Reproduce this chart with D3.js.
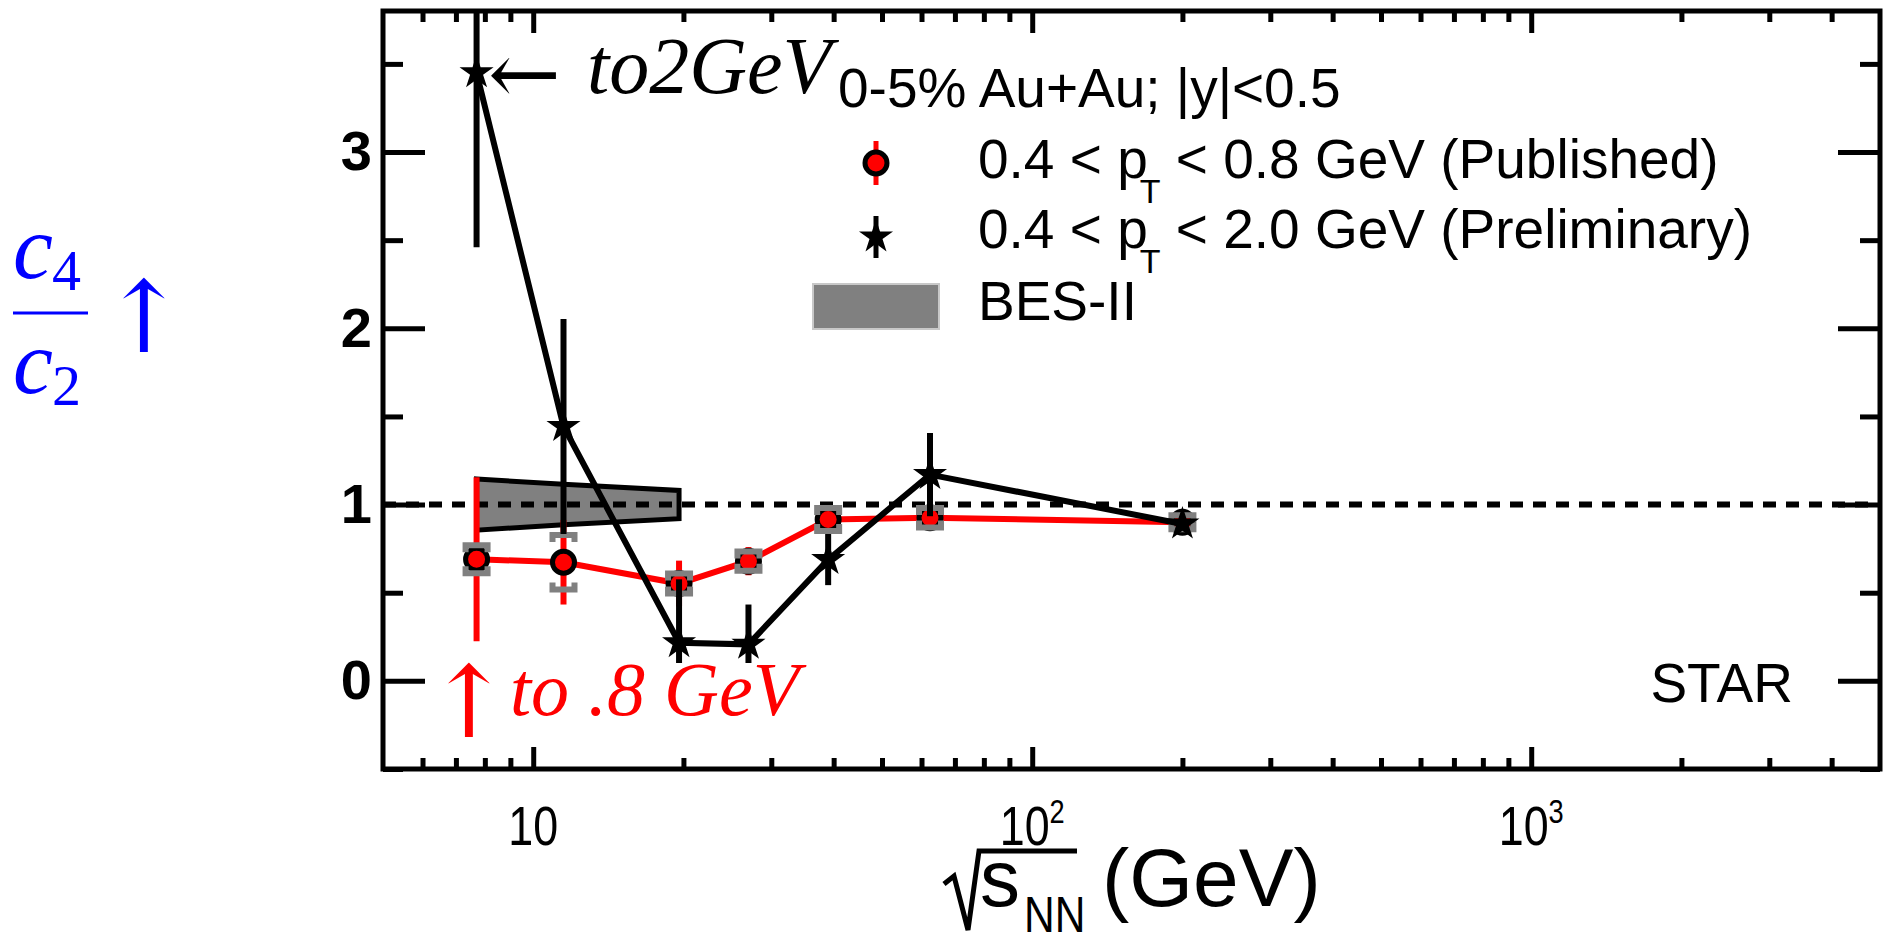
<!DOCTYPE html>
<html>
<head>
<meta charset="utf-8">
<style>
  body { margin: 0; background: #fff; }
  svg { display: block; }
  .sans { font-family: "Liberation Sans", Arial, Helvetica, sans-serif; }
  .serif { font-family: "Liberation Serif", "Times New Roman", serif; font-style: italic; }
</style>
</head>
<body>
<div id="chart"></div>
<script src="https://cdn.jsdelivr.net/npm/d3@7/dist/d3.min.js"></script>
<script>
// collision energies (GeV)
var energies = [7.7, 11.5, 19.6, 27, 39, 62.4, 200];

// 0.4 < pT < 0.8 GeV (published)
var pubVal  = [0.69, 0.673, 0.552, 0.679, 0.915, 0.925, 0.90];
var pubStat = [0.465, 0.24, 0.13, 0.08, 0.05, 0.04, 0.02];
var pubSys  = [0.08, 0.155, 0.057, 0.055, 0.065, 0.055, 0.04];

// 0.4 < pT < 2.0 GeV (preliminary)
var prelimVal = [3.45, 1.443, 0.216, 0.207, 0.688, 1.17, 0.89];
var prelimErr = [0.99, 0.61, 0.36, 0.226, 0.145, 0.236, 0.03];

// BES-II projection band
var besE    = [7.7, 11.5, 19.6];
var besMid  = [1.0, 1.0, 1.0];
var besHalf = [0.145, 0.115, 0.08];

// axes
var yMajor = [0, 1, 2, 3];
var yMinor = [-0.5, 0.5, 1.5, 2.5, 3.5];
var xMajor = [10, 100, 1000];
var xExp   = ['', '2', '3'];
var xMinor = [6, 7, 8, 9, 20, 30, 40, 50, 60, 70, 80, 90,
              200, 300, 400, 500, 600, 700, 800, 900, 2000, 3000, 4000];

var width = 1890, height = 934;
var padL = 383, padR = 1880, padT = 11, padB = 769;

var svg = d3.select('#chart').append('svg')
    .attr('width', width)
    .attr('height', height);

var x = d3.scaleLog().domain([5, 5000]).range([padL, padR]);
var y = d3.scaleLinear().domain([-0.5, 3.8]).range([padB, padT]);

// band
var band = besE.map(function(e, i){
    return {e: e, lo: besMid[i] - besHalf[i], hi: besMid[i] + besHalf[i]};
});
svg.append('path')
    .datum(band)
    .attr('d', d3.area().x(function(d){ return x(d.e); })
        .y0(function(d){ return y(d.lo); })
        .y1(function(d){ return y(d.hi); }))
    .attr('fill', '#808080')
    .attr('stroke', '#000')
    .attr('stroke-width', 5);

// unity line
svg.append('line')
    .attr('x1', x(5)).attr('x2', x(5000))
    .attr('y1', y(1)).attr('y2', y(1))
    .attr('stroke', '#000')
    .attr('stroke-width', 6)
    .attr('stroke-dasharray', '13,10');

var pub = energies.map(function(e, i){
    return {e: e, v: pubVal[i], stat: pubStat[i], sys: pubSys[i]};
});
var pre = energies.map(function(e, i){
    return {e: e, v: prelimVal[i], err: prelimErr[i]};
});

var line = d3.line().x(function(d){ return x(d.e); }).y(function(d){ return y(d.v); });

// published: line, stat bars, markers, systematic caps
svg.append('path').datum(pub).attr('d', line)
    .attr('fill', 'none').attr('stroke', '#ff0000').attr('stroke-width', 6);

svg.selectAll('.pubbar').data(pub).enter().append('line')
    .attr('x1', function(d){ return x(d.e); })
    .attr('x2', function(d){ return x(d.e); })
    .attr('y1', function(d){ return y(d.v - d.stat); })
    .attr('y2', function(d){ return y(d.v + d.stat); })
    .attr('stroke', '#ff0000').attr('stroke-width', 6);

svg.selectAll('.pubpt').data(pub).enter().append('circle')
    .attr('cx', function(d){ return x(d.e); })
    .attr('cy', function(d){ return y(d.v); })
    .attr('r', 11)
    .attr('fill', '#ff0000')
    .attr('stroke', '#000')
    .attr('stroke-width', 5);

function cap(d, sign){
    var cx = x(d.e), cy = y(d.v + sign * d.sys), leg = 7 * sign;
    return 'M' + (cx - 11) + ',' + (cy + leg) + 'V' + cy + 'H' + (cx + 11) + 'V' + (cy + leg);
}
svg.selectAll('.sysup').data(pub).enter().append('path')
    .attr('d', function(d){ return cap(d, 1); })
    .attr('fill', 'none').attr('stroke', '#808080').attr('stroke-width', 6);
svg.selectAll('.sysdn').data(pub).enter().append('path')
    .attr('d', function(d){ return cap(d, -1); })
    .attr('fill', 'none').attr('stroke', '#808080').attr('stroke-width', 6);

// preliminary: line, bars, stars
svg.append('path').datum(pre).attr('d', line)
    .attr('fill', 'none').attr('stroke', '#000').attr('stroke-width', 6);

svg.selectAll('.prebar').data(pre).enter().append('line')
    .attr('x1', function(d){ return x(d.e); })
    .attr('x2', function(d){ return x(d.e); })
    .attr('y1', function(d){ return y(Math.max(d.v - d.err, -0.5)); })
    .attr('y2', function(d){ return y(Math.min(d.v + d.err, 3.8)); })
    .attr('stroke', '#000').attr('stroke-width', 6);

var star = d3.symbol().type(d3.symbolStar).size(360);
svg.selectAll('.prept').data(pre).enter().append('path')
    .attr('d', star)
    .attr('transform', function(d){ return 'translate(' + x(d.e) + ',' + y(d.v) + ')'; })
    .attr('fill', '#000');

// frame ticks
function styleAxis(g){
    g.select('.domain').remove();
    g.selectAll('.tick line').attr('stroke', '#000').attr('stroke-width', 5);
}
svg.append('g').attr('transform', 'translate(' + padL + ',0)')
    .call(d3.axisLeft(y).tickValues(yMajor).tickSize(-42).tickPadding(11).tickFormat(d3.format('d')))
    .call(styleAxis)
    .selectAll('text')
    .attr('class', 'sans')
    .attr('font-size', 56)
    .attr('font-weight', 'bold')
    .attr('fill', '#000');
svg.append('g').attr('transform', 'translate(' + padL + ',0)')
    .call(d3.axisLeft(y).tickValues(yMinor).tickSize(-20).tickFormat(''))
    .call(styleAxis);
svg.append('g').attr('transform', 'translate(' + padR + ',0)')
    .call(d3.axisRight(y).tickValues(yMajor).tickSize(-42).tickFormat(''))
    .call(styleAxis);
svg.append('g').attr('transform', 'translate(' + padR + ',0)')
    .call(d3.axisRight(y).tickValues(yMinor).tickSize(-20).tickFormat(''))
    .call(styleAxis);
svg.append('g').attr('transform', 'translate(0,' + padB + ')')
    .call(d3.axisBottom(x).tickValues(xMajor).tickSize(-22).tickFormat(''))
    .call(styleAxis);
svg.append('g').attr('transform', 'translate(0,' + padB + ')')
    .call(d3.axisBottom(x).tickValues(xMinor).tickSize(-11).tickFormat(''))
    .call(styleAxis);
svg.append('g').attr('transform', 'translate(0,' + padT + ')')
    .call(d3.axisTop(x).tickValues(xMajor).tickSize(-22).tickFormat(''))
    .call(styleAxis);
svg.append('g').attr('transform', 'translate(0,' + padT + ')')
    .call(d3.axisTop(x).tickValues(xMinor).tickSize(-11).tickFormat(''))
    .call(styleAxis);

// x tick labels (narrow, as in the original)
var xl = svg.selectAll('.xlab').data(xMajor).enter().append('text')
    .attr('class', 'sans')
    .attr('transform', function(d){ return 'translate(' + x(d) + ',845) scale(0.8,1)'; })
    .attr('text-anchor', 'middle')
    .attr('font-size', 56);
xl.append('tspan').text('10');
xl.append('tspan').attr('dy', -22).attr('font-size', 34)
    .text(function(d, i){ return xExp[i]; });

// frame
svg.append('rect')
    .attr('x', padL).attr('y', padT)
    .attr('width', padR - padL).attr('height', padB - padT)
    .attr('fill', 'none').attr('stroke', '#000').attr('stroke-width', 5);

// x title
svg.append('path')
    .attr('d', 'M944,884 L954,876 L968,930 L979,851 L1077,851')
    .attr('fill', 'none').attr('stroke', '#000').attr('stroke-width', 5);
svg.append('text').attr('class', 'sans').attr('x', 980).attr('y', 906)
    .attr('font-size', 80).text('s');
svg.append('text').attr('class', 'sans').attr('x', 1024).attr('y', 932)
    .attr('transform', 'translate(1024,0) scale(0.85,1) translate(-1024,0)')
    .attr('font-size', 50).text('NN');
svg.append('text').attr('class', 'sans').attr('x', 1102).attr('y', 906)
    .attr('font-size', 82).text('(GeV)');

// legend
svg.append('text').attr('class', 'sans').attr('x', 838).attr('y', 107)
    .attr('font-size', 55).text('0-5% Au+Au; |y|<0.5');

svg.append('line').attr('x1', 876).attr('x2', 876).attr('y1', 141).attr('y2', 185)
    .attr('stroke', '#ff0000').attr('stroke-width', 5);
svg.append('circle').attr('cx', 876).attr('cy', 163).attr('r', 11)
    .attr('fill', '#ff0000').attr('stroke', '#000').attr('stroke-width', 5);
svg.append('line').attr('x1', 876).attr('x2', 876).attr('y1', 216).attr('y2', 258)
    .attr('stroke', '#000').attr('stroke-width', 5);
svg.append('path').attr('d', star).attr('transform', 'translate(876,237)').attr('fill', '#000');
svg.append('rect').attr('x', 813).attr('y', 284).attr('width', 126).attr('height', 45)
    .attr('fill', '#808080').attr('stroke', '#c8c8c8').attr('stroke-width', 2);

var legText = [['0.4 < p', ' < 0.8 GeV (Published)', 178],
               ['0.4 < p', ' < 2.0 GeV (Preliminary)', 248]];
legText.forEach(function(t){
    var tx = svg.append('text').attr('class', 'sans').attr('x', 978).attr('y', t[2]).attr('font-size', 55);
    tx.append('tspan').text(t[0]);
    tx.append('tspan').attr('font-size', 34).attr('dy', 25).attr('dx', -8).text('T');
    tx.append('tspan').attr('dy', -25).text(t[1]);
});
svg.append('text').attr('class', 'sans').attr('x', 978).attr('y', 320)
    .attr('font-size', 55).text('BES-II');

svg.append('text').attr('class', 'sans').attr('x', 1793).attr('y', 702)
    .attr('text-anchor', 'end').attr('font-size', 55).text('STAR');

// annotations
svg.append('rect').attr('x', 436).attr('y', 663).attr('width', 374).attr('height', 82).attr('fill', '#fff');
svg.append('text').attr('x', 427).attr('y', 737).attr('font-family', 'DejaVu Serif')
    .attr('font-size', 100).attr('fill', '#ff0000').text('↑');
svg.append('text').attr('class', 'serif').attr('x', 510).attr('y', 715)
    .attr('font-size', 76).attr('fill', '#ff0000').text('to .8 GeV');

svg.append('text').attr('x', 488).attr('y', 104).attr('font-family', 'DejaVu Serif')
    .attr('font-size', 87).attr('fill', '#000').text('←');
svg.append('text').attr('class', 'serif').attr('x', 587).attr('y', 93)
    .attr('font-size', 80).attr('fill', '#000').text('to2GeV');

// y title
var yt = svg.append('g').attr('fill', '#0000ff');
yt.append('text').attr('class', 'serif').attr('x', 13).attr('y', 278).attr('font-size', 90).text('c');
yt.append('text').attr('font-family', 'Liberation Serif').attr('x', 52).attr('y', 290).attr('font-size', 58).text('4');
yt.append('line').attr('x1', 13).attr('x2', 88).attr('y1', 313).attr('y2', 313)
    .attr('stroke', '#0000ff').attr('stroke-width', 3);
yt.append('text').attr('class', 'serif').attr('x', 13).attr('y', 393).attr('font-size', 90).text('c');
yt.append('text').attr('font-family', 'Liberation Serif').attr('x', 52).attr('y', 405).attr('font-size', 58).text('2');
yt.append('text').attr('font-family', 'DejaVu Serif').attr('x', 102).attr('y', 352).attr('font-size', 100).text('↑');
</script>
</body>
</html>
